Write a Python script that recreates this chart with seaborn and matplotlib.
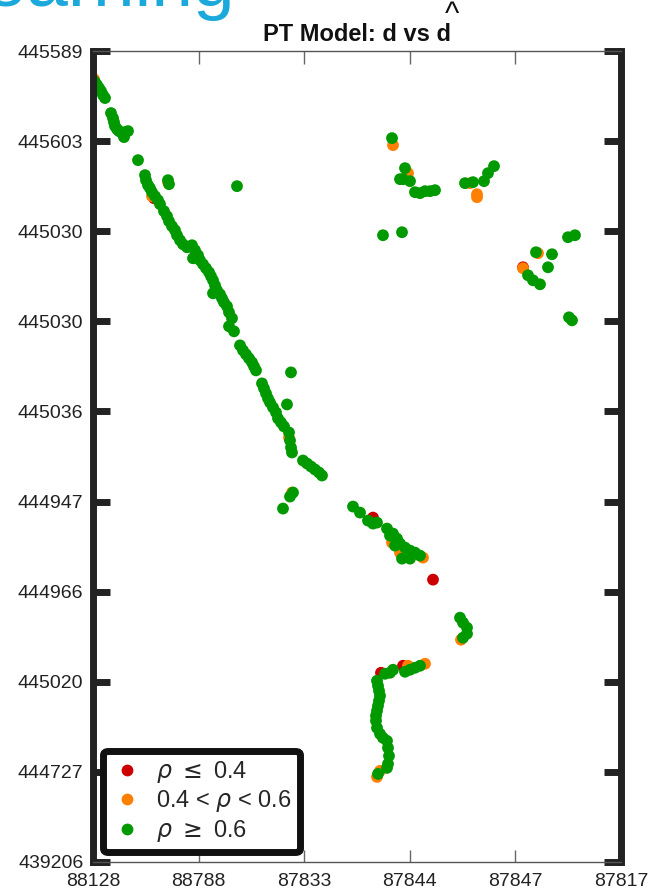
import numpy as np
import pandas as pd
import matplotlib
matplotlib.use("Agg")
import matplotlib.pyplot as plt
import seaborn as sns

# ---- data (axis units; x: 0..528, y: 0..810) ----
green_x = [0, 2, 4, 6, 8, 10, 12, 18, 20, 21, 22, 24, 26, 29, 32, 35, 31, 45, 52, 53,
           55, 57, 59, 62, 65, 67, 75, 76, 71, 74, 76, 79, 82, 84, 87, 90, 94, 99, 102, 100,
           105, 107, 110, 113, 116, 118, 120, 122, 124, 120, 127, 129, 131, 134, 136, 139, 136, 141, 147, 150,
           153, 156, 159, 161, 163, 169, 171, 173, 175, 177, 180, 183, 185, 188, 191, 194, 198, 196, 197, 198,
           199, 210, 214, 218, 222, 226, 229, 200, 197, 190, 144, 260, 267, 275, 280, 284, 294, 297, 300, 304,
           307, 312, 317, 322, 327, 309, 317, 302, 367, 370, 374, 374, 370, 327, 322, 317, 312, 300, 297, 292,
           284, 285, 286, 287, 286, 285, 284, 283, 283, 284, 287, 290, 294, 295, 296, 295, 294, 285, 299, 312,
           307, 310, 317, 322, 327, 332, 337, 342, 372, 380, 391, 395, 401, 290, 309, 443, 459, 455, 435, 440,
           447, 475, 482, 476, 479]
green_y = [781, 779, 776, 773, 770, 766, 763, 748, 743, 739, 735, 732, 730, 728, 729, 730, 724, 701, 686, 681,
           676, 673, 669, 665, 661, 657, 681, 677, 650, 645, 640, 635, 631, 626, 621, 617, 614, 616, 611, 603,
           606, 601, 597, 593, 589, 585, 581, 576, 571, 568, 567, 563, 559, 555, 549, 543, 535, 530, 516, 511,
           507, 503, 499, 495, 491, 478, 473, 468, 463, 459, 454, 449, 443, 439, 435, 457, 489, 429, 421, 414,
           409, 401, 398, 395, 392, 389, 386, 369, 365, 353, 675, 355, 349, 341, 338, 339, 333, 326, 328, 323,
           318, 314, 311, 309, 306, 303, 303, 316, 244, 239, 234, 228, 224, 196, 194, 192, 190, 192, 189, 188,
           181, 176, 171, 166, 161, 156, 151, 146, 141, 134, 128, 124, 121, 114, 106, 98, 94, 88, 723, 693,
           682, 682, 680, 669, 668, 670, 670, 671, 678, 679, 680, 688, 695, 626, 629, 609, 607, 594, 586, 581,
           577, 624, 626, 544, 541]

orange_x = [1, 300, 315, 377, 384, 384, 445, 430, 59, 75, 299, 330, 307, 368, 332, 287, 284, 196, 199, 315]
orange_y = [782, 716, 688, 678, 667, 664, 608, 593, 665, 679, 319, 304, 309, 222, 198, 91, 85, 424, 369, 196]

red_x = [280, 340, 310, 288, 61, 430]
red_y = [344, 282, 196, 189, 663, 594]

categories = [r"$\rho$ $\leq$ 0.4", r"0.4 < $\rho$ < 0.6", r"$\rho$ $\geq$ 0.6"]
colors = ["#CC0000", "#FF8000", "#009900"]

x_tick_labels = ["88128", "88788", "87833", "87844", "87847", "87817"]
y_tick_labels = ["439206", "444727", "445020", "444966", "444947",
                 "445036", "445030", "445030", "445603", "445589"]

df = pd.DataFrame({
    "x": red_x + orange_x + green_x,
    "y": red_y + orange_y + green_y,
    "cat": [categories[0]] * len(red_x) + [categories[1]] * len(orange_x) + [categories[2]] * len(green_x),
})

sns.set_style("white")
plt.rcParams["font.family"] = ["Liberation Sans", "DejaVu Sans"]
plt.rcParams["mathtext.fontset"] = "dejavusans"

fig = plt.figure(figsize=(6.52, 8.91), dpi=100)
ax = fig.add_axes([93 / 652, (891 - 862) / 891, (621 - 93) / 652, (862 - 51) / 891])

sns.scatterplot(data=df, x="x", y="y", hue="cat", hue_order=categories,
                palette=colors, s=72, linewidth=0, ax=ax, legend=True)

ax.set_xlim(0, 528)
ax.set_ylim(0, 810)
ax.set_xlabel("")
ax.set_ylabel("")

ax.set_xticks(np.linspace(0, 528, 6))
ax.set_xticklabels(x_tick_labels)
ax.set_yticks(np.arange(0, 811, 90))
ax.set_yticklabels(y_tick_labels)

for side in ["left", "right"]:
    ax.spines[side].set_linewidth(5)
    ax.spines[side].set_color("#222222")
for side in ["top", "bottom"]:
    ax.spines[side].set_linewidth(1)
    ax.spines[side].set_color("#555555")

ax.tick_params(axis="y", which="major", direction="in", length=12, width=5,
               color="#222222", left=True, right=True, labelright=False,
               labelsize=14, labelcolor="#222222", pad=7)
ax.tick_params(axis="x", which="major", direction="in", length=9, width=1,
               color="#666666", top=True, bottom=True, labeltop=False,
               labelsize=14, labelcolor="#222222", pad=8)

handles, labels = ax.get_legend_handles_labels()
for h in handles:
    try:
        h.set_sizes([50])
    except Exception:
        pass
leg = ax.legend(handles, labels, loc="lower left", bbox_to_anchor=(0.019, 0.012),
                borderaxespad=0, fontsize=17, frameon=True, fancybox=True,
                handletextpad=0.6, labelspacing=0.15, handlelength=1.3,
                borderpad=0.35)
frame = leg.get_frame()
frame.set_linewidth(5)
frame.set_edgecolor("#111111")
frame.set_facecolor("white")
frame.set_alpha(1)

fig.text(357 / 652, 1 - 41 / 891, "PT Model: d vs d", ha="center", va="baseline",
         fontsize=17, fontweight="bold", color="#111111")
fig.text(452 / 652, 1 - 15 / 891, "^", ha="center", va="center", fontsize=22,
         color="#111111")

fig.text(236 / 652, 1 - 6 / 891, "Learning", ha="right", va="baseline",
         fontsize=54, color="#1BA8DB")

fig.savefig("out.png", dpi=100)
